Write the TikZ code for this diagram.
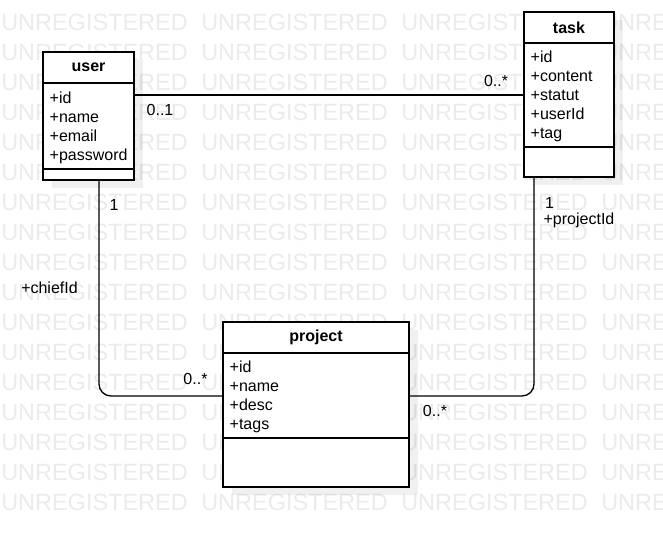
\documentclass[tikz,border=0pt]{standalone}
\usepackage{fontspec}
\setmainfont{Liberation Sans}
\usetikzlibrary{positioning,shadows}
\newcommand\attrline{\rule[-2.85pt]{0pt}{14.25pt}}
\tikzset{
  classname/.style={draw, fill=white, line width=1pt, inner sep=0pt, outer sep=0pt,
    minimum height=23.25pt, font=\fontsize{12}{14.25}\selectfont\bfseries,
    drop shadow={shadow xshift=7pt, shadow yshift=-6pt, fill=black, opacity=0.06}},
  classattr/.style={draw, fill=white, line width=1pt, inner ysep=0pt, inner xsep=5pt,
    outer sep=0pt, align=left, font=\fontsize{12}{14.25}\selectfont,
    drop shadow={shadow xshift=7pt, shadow yshift=-6pt, fill=black, opacity=0.06}},
  classops/.style={draw, fill=white, line width=1pt, inner sep=0pt, outer sep=0pt,
    drop shadow={shadow xshift=7pt, shadow yshift=-6pt, fill=black, opacity=0.06}},
  assoc/.style={line width=1pt, rounded corners=9pt},
  mult/.style={inner sep=0pt, anchor=base, font=\fontsize{12}{14.25}\selectfont},
  watermark/.style={inner sep=0pt, anchor=base west, text=black!8,
    font=\fontsize{17.6}{20}\selectfont}
}
\begin{document}
\begin{tikzpicture}[x=0.75pt, y=-0.75pt]
  \useasboundingbox[fill=white] (0,0) rectangle (663,537);
  \begin{scope}
    \clip (0,0) rectangle (663,537);
    \foreach \r in {0,...,16}
      \foreach \c in {0,...,3}
        \node[watermark] (wm-\r-\c) at (1+200*\c, 30.4+30*\r) {UNREGISTERED};
  \end{scope}

  \node[classname, anchor=north west, minimum width=68.25pt] (user) at (43,52) {user};
  \node[classattr, text width=58.25pt, minimum height=64.5pt, below=0pt of user] (userAttr)
    {\attrline+id\\\attrline+name\\\attrline+email\\\attrline+password};
  \node[classops, minimum width=68.25pt, minimum height=8.25pt, below=0pt of userAttr] (userOps) {};

  \node[classname, anchor=north west, minimum width=67.5pt] (task) at (524,12) {task};
  \node[classattr, text width=57.5pt, minimum height=78pt, below=0pt of task] (taskAttr)
    {\attrline+id\\\attrline+content\\\attrline+statut\\\attrline+userId\\\attrline+tag};
  \node[classops, minimum width=67.5pt, minimum height=22.5pt, below=0pt of taskAttr] (taskOps) {};

  \node[classname, anchor=north west, minimum width=139.5pt] (project) at (223,322) {project};
  \node[classattr, text width=129.5pt, minimum height=63.75pt, below=0pt of project] (projectAttr)
    {\attrline+id\\\attrline+name\\\attrline+desc\\\attrline+tags};
  \node[classops, minimum width=139.5pt, minimum height=36.75pt, below=0pt of projectAttr] (projectOps) {};

  \coordinate (ut) at ([yshift=-9pt]userAttr.north east);
  \coordinate (uc) at ([xshift=7.875pt]userOps.south);
  \coordinate (tc) at ([xshift=-26.25pt]taskOps.south);
  \coordinate (pw) at ([yshift=-32.25pt]projectAttr.north west);
  \begin{scope}[assoc]
    \draw (ut) -- (ut -| taskAttr.west);
    \draw (uc) |- (pw);
    \draw (tc) |- (pw -| projectAttr.east);
  \end{scope}

  \node[mult] (utFrom) at (160,115) {0..1};
  \node[mult] (utTo) at (496,86) {0..*};
  \node[mult] (upFrom) at (114,210.5) {1};
  \node[mult] (upRole) at (49.5,293) {+chiefId};
  \node[mult] (upTo) at (195.5,384) {0..*};
  \node[mult] (tpFrom) at (549.5,208) {1};
  \node[mult] (tpRole) at (579,224) {+projectId};
  \node[mult] (tpTo) at (435,416.5) {0..*};
\end{tikzpicture}
\end{document}
